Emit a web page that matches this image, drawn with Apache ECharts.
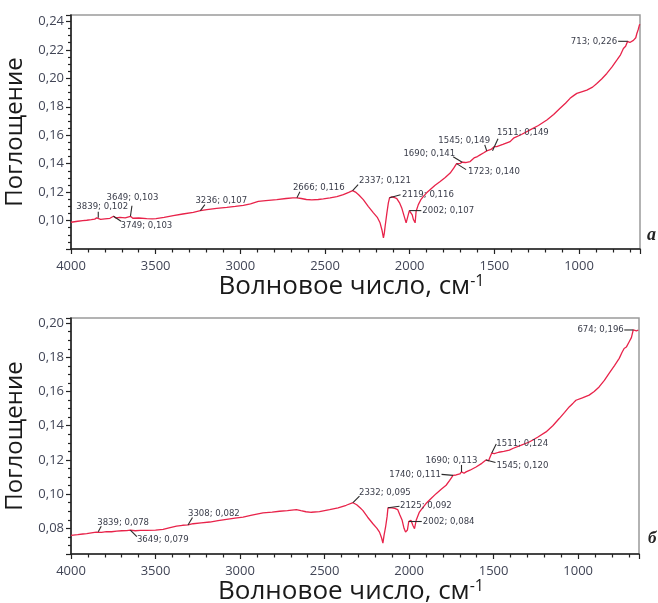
<!DOCTYPE html>
<html>
<head>
<meta charset="utf-8">
<script src="https://cdn.jsdelivr.net/npm/echarts@6/dist/echarts.min.js"></script>
<style>
  html, body { margin: 0; padding: 0; background: #ffffff; }
  #chart { width: 658px; height: 603px; }
</style>
</head>
<body>
<div id="chart"></div>
<script>
// IR absorption spectra, panels (а) and (б)

// Panel а: wavenumber (cm-1) and absorbance
const wavenumbersA = [
  4000, 3960, 3930, 3907, 3880, 3860, 3848, 3839, 3825, 3800, 3770, 3749, 3735, 3711, 3680,
  3649, 3635, 3600, 3553, 3520, 3498, 3450, 3396, 3340, 3278, 3236, 3198, 3140, 3080, 3030,
  2982, 2940, 2894, 2850, 2785, 2730, 2690, 2666, 2640, 2610, 2578, 2540, 2510, 2470, 2430,
  2392, 2360, 2337, 2320, 2300, 2274, 2245, 2214, 2190, 2175, 2163, 2155, 2150, 2145, 2135,
  2126, 2119, 2106, 2090, 2076, 2060, 2047, 2035, 2021, 2010, 2002, 1992, 1985, 1978, 1968,
  1962, 1949, 1935, 1919, 1900, 1880, 1850, 1820, 1790, 1761, 1740, 1723, 1702, 1690, 1670,
  1643, 1620, 1600, 1584, 1560, 1545, 1535, 1520, 1511, 1500, 1486, 1450, 1407, 1387, 1340,
  1289, 1240, 1190, 1150, 1112, 1080, 1053, 1030, 1013, 985, 954, 920, 895, 865, 836,
  805, 777, 755, 738, 725, 713, 700, 690, 679, 665, 659, 650, 644, 641
];
const absorbanceA = [
  0.0988, 0.0995, 0.0999, 0.1002, 0.1006, 0.1010, 0.1019, 0.1020, 0.1008, 0.1012, 0.1016, 0.1030, 0.1018, 0.1023, 0.1019,
  0.1030, 0.1016, 0.1018, 0.1014, 0.1012, 0.1014, 0.1022, 0.1035, 0.1046, 0.1058, 0.1070, 0.1077, 0.1085, 0.1093, 0.1100,
  0.1107, 0.1118, 0.1135, 0.1140, 0.1147, 0.1155, 0.1160, 0.1160, 0.1155, 0.1148, 0.1145, 0.1148, 0.1152, 0.1159, 0.1168,
  0.1182, 0.1198, 0.1210, 0.1200, 0.1180, 0.1147, 0.1100, 0.1054, 0.1020, 0.0984, 0.0930, 0.0879, 0.0910, 0.0960, 0.1050,
  0.1124, 0.1160, 0.1166, 0.1162, 0.1154, 0.1125, 0.1089, 0.1040, 0.0984, 0.0979, 0.1070, 0.1065, 0.1040, 0.1007, 0.0984,
  0.1065, 0.1112, 0.1145, 0.1170, 0.1195, 0.1217, 0.1248, 0.1275, 0.1303, 0.1334, 0.1368, 0.1400, 0.1402, 0.1410, 0.1408,
  0.1415, 0.1440, 0.1450, 0.1462, 0.1478, 0.1490, 0.1485, 0.1500, 0.1490, 0.1520, 0.1520, 0.1535, 0.1555, 0.1579, 0.1605,
  0.1637, 0.1668, 0.1707, 0.1745, 0.1789, 0.1825, 0.1859, 0.1880, 0.1894, 0.1905, 0.1917, 0.1938, 0.1964, 0.1997, 0.2034,
  0.2080, 0.2127, 0.2165, 0.2209, 0.2225, 0.2260, 0.2252, 0.2262, 0.2267, 0.2285, 0.2313, 0.2345, 0.2372, 0.2380
];

// Panel б: wavenumber (cm-1) and absorbance
const wavenumbersB = [
  4000, 3960, 3930, 3907, 3870, 3850, 3839, 3820, 3790, 3760, 3730, 3700, 3670, 3649, 3620,
  3590, 3553, 3500, 3455, 3420, 3376, 3340, 3308, 3278, 3230, 3179, 3130, 3080, 3030, 2982,
  2930, 2864, 2810, 2766, 2720, 2667, 2640, 2610, 2578, 2530, 2470, 2420, 2372, 2332, 2310,
  2290, 2274, 2245, 2214, 2190, 2175, 2163, 2155, 2148, 2139, 2130, 2125, 2110, 2100, 2085,
  2067, 2055, 2041, 2030, 2021, 2010, 2002, 1995, 1989, 1978, 1968, 1958, 1939, 1920, 1900,
  1870, 1840, 1810, 1781, 1760, 1740, 1722, 1700, 1690, 1675, 1663, 1640, 1604, 1570, 1545,
  1530, 1511, 1496, 1470, 1440, 1407, 1387, 1340, 1289, 1240, 1190, 1150, 1112, 1080, 1053,
  1030, 1013, 975, 935, 905, 876, 845, 817, 785, 757, 740, 728, 715, 698, 685,
  674, 665, 655, 644, 641
];
const absorbanceB = [
  0.0759, 0.0763, 0.0767, 0.0769, 0.0775, 0.0778, 0.0780, 0.0776, 0.0781, 0.0780, 0.0784, 0.0786, 0.0787, 0.0790, 0.0786,
  0.0788, 0.0788, 0.0790, 0.0794, 0.0803, 0.0813, 0.0818, 0.0820, 0.0827, 0.0832, 0.0837, 0.0845, 0.0853, 0.0860, 0.0866,
  0.0877, 0.0890, 0.0895, 0.0900, 0.0904, 0.0909, 0.0903, 0.0897, 0.0894, 0.0898, 0.0909, 0.0920, 0.0935, 0.0950, 0.0938,
  0.0920, 0.0905, 0.0865, 0.0827, 0.0800, 0.0778, 0.0745, 0.0714, 0.0760, 0.0808, 0.0870, 0.0920, 0.0921, 0.0921, 0.0917,
  0.0909, 0.0880, 0.0847, 0.0800, 0.0778, 0.0790, 0.0840, 0.0830, 0.0847, 0.0818, 0.0798, 0.0847, 0.0895, 0.0920, 0.0945,
  0.0975, 0.1003, 0.1028, 0.1052, 0.1080, 0.1110, 0.1112, 0.1118, 0.1130, 0.1122, 0.1130, 0.1140, 0.1159, 0.1180, 0.1200,
  0.1195, 0.1240, 0.1237, 0.1245, 0.1250, 0.1257, 0.1267, 0.1285, 0.1305, 0.1333, 0.1364, 0.1400, 0.1442, 0.1478, 0.1510,
  0.1532, 0.1549, 0.1563, 0.1579, 0.1600, 0.1627, 0.1665, 0.1706, 0.1752, 0.1794, 0.1830, 0.1852, 0.1860, 0.1891, 0.1915,
  0.1960, 0.1950, 0.1955, 0.1960, 0.1962
];

// Labelled peaks
const peakWavenumbersA = [3839, 3749, 3649, 3236, 2666, 2337, 2119, 2002, 1723, 1690, 1545, 1511, 713];
const peakValuesA = [0.102, 0.103, 0.103, 0.107, 0.116, 0.121, 0.116, 0.107, 0.140, 0.141, 0.149, 0.149, 0.226];
const peakWavenumbersB = [3839, 3649, 3308, 2332, 2125, 2002, 1740, 1690, 1545, 1511, 674];
const peakValuesB = [0.078, 0.079, 0.082, 0.095, 0.092, 0.084, 0.111, 0.113, 0.120, 0.124, 0.196];

// Tick labels shown on the axes
const xTickLabels = [4000, 3500, 3000, 2500, 2000, 1500, 1000];
const yTickLabelsA = [0.10, 0.12, 0.14, 0.16, 0.18, 0.20, 0.22, 0.24];
const yTickLabelsB = [0.08, 0.10, 0.12, 0.14, 0.16, 0.18, 0.20];

// Axis extents
const X_MIN = 640, X_MAX = 4000;
const Y_RANGE_A = [0.08, 0.2445];
const Y_RANGE_B = [0.065, 0.203];

// Callout placement relative to the peak: [leaderDx, leaderDy, textDx, textDy, align]
const calloutLayoutA = [
  [0, -6, 4, -11, 'center'],
  [7.5, 5, 7, 9.5, 'left'],
  [1.5, -10.5, 2, -19, 'center'],
  [4.5, -6, -5, -10, 'left'],
  [3, -6, -4, -10, 'left'],
  [5.5, -6, 6.5, -10.3, 'left'],
  [11, -3, 12.5, -3, 'left'],
  [12, 0, 13, 0, 'left'],
  [9.5, 6, 11.5, 8, 'left'],
  [-9, -5.5, -7, -9, 'right'],
  [-2, -6, -22.5, -10, 'center'],
  [5.5, -12, 4.5, -18.3, 'left'],
  [-9.5, 0, -10.5, 0, 'right']
];
const calloutLayoutB = [
  [3, -5.5, -1, -9.7, 'left'],
  [6.5, 6.5, 6.6, 9, 'left'],
  [4.5, -7.5, 0, -11.3, 'left'],
  [6.5, -6.5, 6, -10, 'left'],
  [11.5, -1.5, 12, -2, 'left'],
  [13, 0, 14, 0, 'left'],
  [-11.5, -1, -12, -1.3, 'right'],
  [0, -7, -10, -11.3, 'center'],
  [9.5, 2.5, 10.5, 5.3, 'left'],
  [4.5, -9, 4.6, -10, 'left'],
  [-9, 0, -9.5, 0, 'right']
];

const LINE_COLOR = '#e8234a';
const AXIS_COLOR = '#222222';
const TICK_TEXT = '#414556';
const LABEL_FONT = "'Liberation Sans Narrow', 'DejaVu Sans Condensed', Roboto, sans-serif";

const inList = (list, v) => list.some(t => Math.abs(t - v) < 1e-6);
const fmtComma = v => v.toFixed(2).replace('.', ',');

function xAxis(gridIndex) {
  return {
    type: 'value', gridIndex, position: 'bottom', min: X_MIN, max: X_MAX, inverse: true,
    splitLine: { show: false },
    name: 'Волновое число, см{sup|-1}',
    nameLocation: 'middle',
    nameGap: 22,
    nameTextStyle: {
      fontFamily: 'Open Sans', fontSize: 26, color: '#1a1a1a', padding: [0, 8, 0, 0],
      rich: { sup: { fontFamily: 'Open Sans', fontSize: 16, color: '#1a1a1a', verticalAlign: 'top' } }
    },
    axisLine: { onZero: false, lineStyle: { color: AXIS_COLOR, width: 1.6 } },
    axisTick: { show: true, length: 5, lineStyle: { color: AXIS_COLOR, width: 1.2 } },
    minorTick: { show: true, splitNumber: 5, length: 3.5, lineStyle: { color: AXIS_COLOR, width: 1.2 } },
    axisLabel: {
      margin: 11, color: TICK_TEXT, fontFamily: 'Open Sans', fontSize: 13,
      showMinLabel: true, showMaxLabel: true,
      formatter: v => (inList(xTickLabels, v) ? String(v) : '')
    }
  };
}

function yAxis(gridIndex, extent, labels, scaleOpts) {
  return Object.assign({
    type: 'value', gridIndex, position: 'left', min: extent[0], max: extent[1],
    splitLine: { show: false },
    name: 'Поглощение',
    nameLocation: 'middle',
    nameGap: 28,
    nameTextStyle: { fontFamily: 'Open Sans', fontSize: 24, color: '#1a1a1a' },
    axisLine: { show: true, onZero: false, lineStyle: { color: AXIS_COLOR, width: 1.6 } },
    axisTick: { show: true, length: 5, lineStyle: { color: AXIS_COLOR, width: 1.2 } },
    minorTick: { show: true, splitNumber: 4, length: 3, lineStyle: { color: AXIS_COLOR, width: 1.2 } },
    axisLabel: {
      margin: 7, color: TICK_TEXT, fontFamily: 'Open Sans', fontSize: 13,
      showMinLabel: true, showMaxLabel: true,
      formatter: v => (inList(labels, v) ? fmtComma(v) : '')
    }
  }, scaleOpts);
}

function spectrum(xi, yi, wns, vals) {
  return {
    type: 'line', xAxisIndex: xi, yAxisIndex: yi,
    data: wns.map((w, i) => [w, vals[i]]),
    showSymbol: false, smooth: false, animation: false,
    lineStyle: { color: LINE_COLOR, width: 1.3 }
  };
}

function callouts(xi, yi, wns, vals, layout) {
  return {
    type: 'custom', xAxisIndex: xi, yAxisIndex: yi, clip: false, z: 5, animation: false,
    data: wns.map((w, i) => [w, vals[i]]),
    renderItem(params, api) {
      const w = api.value(0), v = api.value(1);
      const p = api.coord([w, v]);
      const [lx, ly, tx, ty, align] = layout[params.dataIndex];
      return {
        type: 'group',
        children: [
          { type: 'line', shape: { x1: p[0], y1: p[1], x2: p[0] + lx, y2: p[1] + ly },
            style: { stroke: '#2b2b2b', lineWidth: 1.1 } },
          { type: 'text', x: p[0] + tx, y: p[1] + ty,
            style: { text: w + '; ' + v.toFixed(3).replace('.', ','), fill: '#3a3d4a',
                     fontSize: 9.5, fontFamily: LABEL_FONT, align, verticalAlign: 'middle' } }
        ]
      };
    }
  };
}

const chart = echarts.init(document.getElementById('chart'), null, { renderer: 'canvas' });
chart.setOption({
  backgroundColor: '#ffffff',
  animation: false,
  grid: [
    { left: 71, top: 15, width: 569, height: 234, show: true, borderColor: '#9a9a9a', borderWidth: 1.5, outerBoundsMode: 'none', containLabel: false },
    { left: 71, top: 318, width: 568, height: 236, show: true, borderColor: '#9a9a9a', borderWidth: 1.5, outerBoundsMode: 'none', containLabel: false }
  ],
  xAxis: [xAxis(0), xAxis(1)],
  yAxis: [
    yAxis(0, Y_RANGE_A, yTickLabelsA, { interval: 0.02 }),
    yAxis(1, Y_RANGE_B, yTickLabelsB, { splitNumber: 7 })
  ],
  series: [
    spectrum(0, 0, wavenumbersA, absorbanceA),
    callouts(0, 0, peakWavenumbersA, peakValuesA, calloutLayoutA),
    spectrum(1, 1, wavenumbersB, absorbanceB),
    callouts(1, 1, peakWavenumbersB, peakValuesB, calloutLayoutB)
  ],
  graphic: [
    { type: 'text', left: 647, top: 226, style: { text: 'а', font: 'italic bold 18px "Liberation Serif"', fill: '#222' } },
    { type: 'text', left: 648, top: 530, style: { text: 'б', font: 'italic bold 17px "Liberation Serif"', fill: '#222' } }
  ]
});
</script>
</body>
</html>
